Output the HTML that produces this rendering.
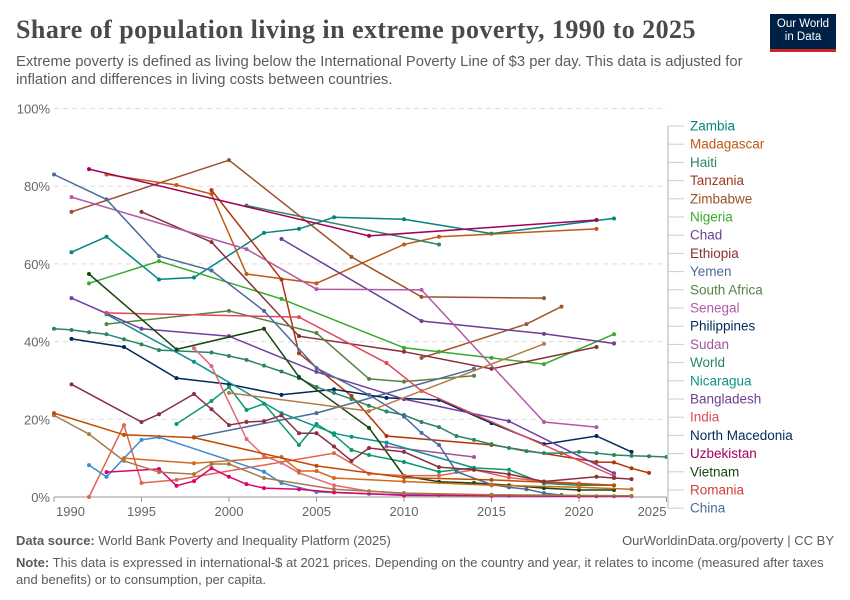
<!DOCTYPE html>
<html><head><meta charset="utf-8"><style>
body{margin:0;background:#fff;font-family:"Liberation Sans",sans-serif;}
#wrap{position:relative;width:850px;height:600px;overflow:hidden;}
.t{position:absolute;white-space:nowrap;}
</style></head><body><div id="wrap">
<div class="t" style="left:16px;top:15px;font-family:'Liberation Serif',serif;font-size:26px;letter-spacing:0.45px;font-weight:bold;color:#4a4a4a;">Share of population living in extreme poverty, 1990 to 2025</div>
<div class="t" style="left:16px;top:53px;font-size:14.8px;color:#5b5b5b;line-height:18px;">Extreme poverty is defined as living below the International Poverty Line of $3 per day. This data is adjusted for<br>inflation and differences in living costs between countries.</div>
<div style="position:absolute;left:770px;top:14px;width:66px;height:38px;background:#002147;border-bottom:3px solid #ce261e;color:#fff;font-size:11.5px;line-height:13px;text-align:center;padding-top:4px;box-sizing:border-box;">Our World<br>in Data</div>
<svg id="chart" width="850" height="600" style="position:absolute;left:0;top:0"></svg>
<div class="t" style="left:16px;top:533px;font-size:13px;color:#5b5b5b;"><b>Data source:</b> World Bank Poverty and Inequality Platform (2025)</div>
<div class="t" style="right:16px;top:533px;font-size:13px;color:#5b5b5b;">OurWorldinData.org/poverty | CC BY</div>
<div class="t" style="left:16px;top:554px;font-size:13px;color:#5b5b5b;line-height:17px;"><b>Note:</b> This data is expressed in international-$ at 2021 prices. Depending on the country and year, it relates to income (measured after taxes<br>and benefits) or to consumption, per capita.</div>
</div>
<script>
const yTicks=[0,20,40,60,80,100];
const xTicks=[1990,1995,2000,2005,2010,2015,2020,2025];
const zambiaYears=[1991,1993,1996,1998,2002,2004,2006,2010,2015,2022];
const zambiaValues=[63,67,56,56.5,68,69,72,71.5,67.8,71.7];
const madagascarYears=[1993,1997,1999,2001,2005,2010,2012,2021];
const madagascarValues=[83,80.3,78,57.4,55,65,67,69];
const haitiYears=[2001,2012];
const haitiValues=[75,65];
const tanzaniaYears=[1999,2003,2004,2007,2009,2015,2021,2022,2023,2024];
const tanzaniaValues=[79,56,37,26,15.7,13.4,9,8.9,7.4,6.2];
const zimbabweYears=[1991,2000,2007,2011,2018];
const zimbabweValues=[73.4,86.7,61.8,51.5,51.2];
const zimbabwe2Years=[2011,2017,2019];
const zimbabwe2Values=[35.8,44.5,49];
const nigeriaYears=[1992,1996,2003,2010,2012,2015,2018,2022];
const nigeriaValues=[55,60.7,51,38.4,37.4,35.8,34.2,41.9];
const chadYears=[2003,2011,2018,2022];
const chadValues=[66.4,45.3,42,39.5];
const ethiopiaYears=[1995,1999,2004,2010,2015,2021];
const ethiopiaValues=[73.4,65.6,41.4,37.4,33,38.6];
const yemenYears=[1998,2005,2014];
const yemenValues=[15.4,21.6,33];
const southAfricaYears=[1993,2000,2005,2008,2010,2014];
const southAfricaValues=[44.5,47.9,42.2,30.4,29.7,31.2];
const senegalYears=[1991,2001,2005,2011,2018,2021];
const senegalValues=[77.2,63.8,53.5,53.3,19.3,18];
const philippinesYears=[1991,1994,1997,2000,2003,2006,2009,2012,2015,2018,2021,2023];
const philippinesValues=[40.7,38.6,30.6,29,26.3,27.7,25.5,25,19,13.6,15.7,11.6];
const sudanYears=[2009,2014];
const sudanValues=[13,10.3];
const worldYears=[1990,1991,1992,1993,1994,1995,1996,1997,1999,2000,2001,2002,2003,2004,2005,2006,2007,2008,2009,2010,2011,2012,2013,2014,2015,2016,2017,2018,2019,2020,2021,2022,2023,2024,2025];
const worldValues=[43.3,43,42.4,41.9,40.6,39.3,37.8,37.6,37.2,36.3,35.3,33.8,32.3,30.6,28.3,26.8,25.2,23.5,22,21.1,19.3,18,15.7,14.7,13.6,12.6,11.8,11.3,11.3,11.6,11.3,10.8,10.6,10.5,10.3];
const nicaraguaYears=[1993,1998,2003,2006,2007,2009,2014];
const nicaraguaValues=[47,34.8,21.6,16.4,15.5,14,7.5];
const bangladeshYears=[1991,1995,2000,2005,2010,2016,2022];
const bangladeshValues=[51.2,43.3,41.4,32.2,25.2,19.5,6.1];
const indiaYears=[1993,2004,2009,2011,2022];
const indiaValues=[47.4,46.3,34.5,27.3,5.4];
const greenYears=[1997,1999,2000,2001,2002,2004,2005,2006,2007,2008,2010,2012,2014,2016,2018,2020,2022];
const greenValues=[18.8,24.7,28.3,22.4,24,13.4,18.8,16,12.1,10.8,9,6.5,7.5,7,3.5,3,3];
const uzbekistanYears=[1992,2008,2021];
const uzbekistanValues=[84.4,67.2,71.3];
const vietnamYears=[1992,1997,2002,2004,2008,2010,2012,2014,2016,2018,2020,2022];
const vietnamValues=[57.4,38,43.3,30.9,17.8,5.4,3.9,3.6,3,2.3,1.8,1.8];
const romaniaYears=[1992,1994,1995,1997,2006,2008,2010,2012,2014,2016,2018,2020,2022];
const romaniaValues=[0,18.5,3.6,4.4,11.3,6,5.5,5.5,7,5,4,3.5,3];
const chinaYears=[1990,1993,1996,1999,2002,2005,2008,2010,2011,2012,2013,2015,2016,2017,2018,2019,2020,2021,2022];
const chinaValues=[83,76.6,62,58.3,47.9,33.2,26.3,20.7,16.5,13.4,6.5,3.2,2.5,2,1,0.5,0.3,0.2,0.2];
const macedoniaYears=[1992,1993,1995,1996,2002,2003,2005,2008,2012,2016,2020];
const macedoniaValues=[8.2,5.2,14.7,15.4,6.5,3.6,1.3,0.8,0.5,0.3,0.2];
const pinkYears=[1998,1999,2001,2002,2003,2004,2006,2008,2010];
const pinkValues=[38.3,33.7,14.9,10.6,8.8,6.2,3,1.5,1];
const magentaYears=[1993,1996,1997,1998,1999,2000,2001,2002,2004,2006,2010,2015,2020,2023];
const magentaValues=[6.4,7.2,2.9,4.1,7.4,5.2,3.3,2.3,2,1.2,0.4,0.3,0.2,0.2];
const orangeYears=[1994,1998,2003,2004,2005,2006,2010,2015,2020,2023];
const orangeValues=[10,8.7,10.3,6.7,6.7,4.9,4,3,2.5,2];
const tanYears=[1990,1992,1994,1996,1998,1999,2000,2002,2006,2010,2015,2020,2023];
const tanValues=[21,16.2,9.3,6.4,5.9,8.5,8.5,4.9,2,1,0.6,0.4,0.3];
const tan2Years=[2000,2008,2018];
const tan2Values=[26.8,22.1,39.4];
const tzLowYears=[1990,1994,1998,2005,2010,2015,2022];
const tzLowValues=[21.6,16,15.3,8,5,4.4,3];
const redBrownYears=[1991,1995,1996,1998,1999,2000,2001,2002,2003,2004,2005,2006,2007,2008,2010,2012,2014,2016,2018,2021,2022,2023];
const redBrownValues=[29,19.3,21.3,26.5,22.6,18.5,19.3,19.5,21,16.4,16.4,13,9.3,12.6,11.6,7.7,7,5.9,4,5.2,4.9,4.6];
const legendNames=["Zambia","Madagascar","Haiti","Tanzania","Zimbabwe","Nigeria","Chad","Ethiopia","Yemen","South Africa","Senegal","Philippines","Sudan","World","Nicaragua","Bangladesh","India","North Macedonia","Uzbekistan","Vietnam","Romania","China"];
const legendColors=["#00847e","#c05917","#2c8465","#9a3c20","#9a5129","#38aa2e","#6d3e91","#883039","#4c6a9c","#578145","#b05aa8","#00295b","#a2559c","#2c8465","#0d928c","#6d3e91","#e0485a","#00295b","#a2005c","#18470f","#d73c3c","#4c6a9c"];

const series=[
["zambia",zambiaYears,zambiaValues,"#00847e"],["madagascar",madagascarYears,madagascarValues,"#c05917"],["haiti",haitiYears,haitiValues,"#2c8465"],["tanzania",tanzaniaYears,tanzaniaValues,"#b13507"],["zimbabwe",zimbabweYears,zimbabweValues,"#9a5129"],["zimbabwe-2",zimbabwe2Years,zimbabwe2Values,"#a0562d"],["nigeria",nigeriaYears,nigeriaValues,"#38aa2e"],["chad",chadYears,chadValues,"#6d3e91"],["ethiopia",ethiopiaYears,ethiopiaValues,"#883039"],["yemen",yemenYears,yemenValues,"#4c6a9c"],["south-africa",southAfricaYears,southAfricaValues,"#578145"],["senegal",senegalYears,senegalValues,"#b05aa8"],["philippines",philippinesYears,philippinesValues,"#00295b"],["sudan",sudanYears,sudanValues,"#a2559c"],["world",worldYears,worldValues,"#2c8465"],["nicaragua",nicaraguaYears,nicaraguaValues,"#0d928c"],["bangladesh",bangladeshYears,bangladeshValues,"#7040a0"],["india",indiaYears,indiaValues,"#e0485a"],["green-series",greenYears,greenValues,"#0a9a6a"],["uzbekistan",uzbekistanYears,uzbekistanValues,"#a2005c"],["vietnam",vietnamYears,vietnamValues,"#18470f"],["romania",romaniaYears,romaniaValues,"#e0644f"],["china",chinaYears,chinaValues,"#4c6a9c"],["north-macedonia",macedoniaYears,macedoniaValues,"#3b8bd0"],["pink-series",pinkYears,pinkValues,"#e06a78"],["magenta-series",magentaYears,magentaValues,"#e0006e"],["orange-series",orangeYears,orangeValues,"#d2691e"],["tan-series",tanYears,tanValues,"#a57a4a"],["tan-rising",tan2Years,tan2Values,"#b07d48"],["tanzania-low",tzLowYears,tzLowValues,"#c14b00"],["red-brown",redBrownYears,redBrownValues,"#8a3040"]];

const NS="http://www.w3.org/2000/svg";
const svg=document.getElementById('chart');
const X0=54,X1=666.5,Y0=497,Y1=108.5;
function xs(y){return X0+(y-1990)/(2025-1990)*(X1-X0);}
function ys(v){return Y0-v/100*(Y0-Y1);}
function mk(t,a){const e=document.createElementNS(NS,t);for(const k in a)e.setAttribute(k,a[k]);svg.appendChild(e);return e;}
yTicks.forEach(v=>{
 const l=mk('line',{x1:X0,x2:X1,y1:ys(v),y2:ys(v),stroke:v===0?'#999':'#ddd','stroke-dasharray':v===0?'':'5,4'});
 
 
 const t=mk('text',{x:50,y:ys(v)+5,'text-anchor':'end','font-size':13,fill:'#666','font-family':'Liberation Sans, sans-serif'});
 t.textContent=v+'%';
 
 
});
xTicks.forEach((yr,i)=>{
 const l=mk('line',{x1:xs(yr),x2:xs(yr),y1:Y0,y2:Y0+5,stroke:'#999'});
 
 
 const anchor=i===0?'start':(i===xTicks.length-1?'end':'middle');
 const t=mk('text',{x:xs(yr)+(i===0?2:0),y:Y0+19,'text-anchor':anchor,'font-size':13,fill:'#666','font-family':'Liberation Sans, sans-serif'});
 t.textContent=yr;
 
 
});
series.forEach(s=>{
 const [name,yrs,vals,col]=s;
 const pts=yrs.map((y,i)=>xs(y).toFixed(1)+','+ys(vals[i]).toFixed(1)).join(' ');
 const p=mk('polyline',{points:pts,fill:'none',stroke:col,'stroke-width':1.5});
 
 
 yrs.forEach((y,i)=>{
  const c=mk('circle',{cx:xs(y),cy:ys(vals[i]),r:2,fill:col});
  
  
 });
});
const vline=mk('line',{x1:668,x2:668,y1:126,y2:508,stroke:'#ccc','stroke-width':1.5});


legendNames.forEach((n,i)=>{
 const y=126+i*18.2;
 const l=mk('line',{x1:668,x2:684,y1:y,y2:y,stroke:'#ccc'});
 
 
 const t=mk('text',{x:690,y:y+4.5,'font-size':13.5,fill:legendColors[i],'font-family':'Liberation Sans, sans-serif'});
 t.textContent=n;
 
 
});
</script></body></html>
